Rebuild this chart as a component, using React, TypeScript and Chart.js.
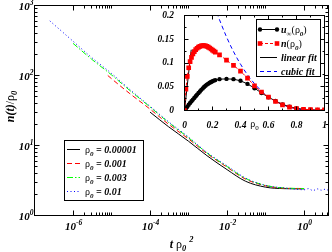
import React, { useEffect, useRef } from 'react';
import { Chart, registerables } from 'chart.js';

Chart.register(...registerables);

// ---------------- main panel data ----------------
const SERIES_LABELS = ['ρ0 = 0.00001', 'ρ0 = 0.001', 'ρ0 = 0.003', 'ρ0 = 0.01'];
const SERIES_COLORS = ['#000000', '#ff0000', '#00ff00', '#0000ff'];

const T_BLACK = [1e-4, 3e-4, 1e-3, 3e-3, 1e-2, 3e-2, 1e-1, 3e-1, 1];
const N_BLACK = [30, 18.6, 11.5, 7.16, 4.52, 3.09, 2.54, 2.42, 2.4];

const T_RED = [8e-6, 1e-5, 3e-5, 1e-4, 3e-4, 1e-3, 3e-3, 1e-2, 3e-2, 1e-1, 3e-1, 1];
const N_RED = [100, 90, 55, 33.1, 20.2, 12.4, 7.67, 4.9, 3.31, 2.66, 2.45, 2.43];

const T_GREEN = [1e-6, 3e-6, 1e-5, 3e-5, 1e-4, 3e-4, 1e-3, 3e-3, 1e-2, 3e-2, 1e-1, 3e-1, 1];
const N_GREEN = [288, 172, 102, 61, 35.5, 21.4, 12.9, 7.85, 5.0, 3.39, 2.69, 2.47, 2.43];

const T_BLUE = [2.5e-7, 1e-6, 3e-6, 1e-5, 3e-5, 1e-4, 3e-4, 1e-3, 3e-3, 1e-2, 3e-2, 1e-1, 3e-1, 0.6, 1, 1.3, 1.7, 2.2, 2.8, 3.5, 4.2];
const N_BLUE = [603, 309, 182, 107, 63, 36.3, 21.9, 13.2, 7.94, 5.13, 3.43, 2.69, 2.48, 2.38, 2.33, 2.42, 2.27, 2.4, 2.3, 2.37, 2.3];

const X_MAJOR = [1e-6, 1e-4, 1e-2, 1];
const X_EXP = ['-6', '-4', '-2', '0'];
const Y_MAJOR = [1, 10, 100, 1000];
const Y_EXP = ['0', '1', '2', '3'];
const X_TITLE = 't ρ0 ²';
const Y_TITLE = 'n(t)/ρ0';

// ---------------- inset data ----------------
const RHO = [0, 0.01, 0.02, 0.03, 0.04, 0.05, 0.06, 0.07, 0.08, 0.09, 0.1, 0.11, 0.12, 0.13, 0.14, 0.15, 0.16, 0.17, 0.18, 0.19, 0.2, 0.21, 0.22,
  0.25, 0.3, 0.35, 0.4, 0.45, 0.5, 0.55, 0.6, 0.65, 0.7, 0.75, 0.8, 0.85, 0.9, 0.95, 1.0];
const U_INF = [0, 0.004, 0.008, 0.012, 0.016, 0.0195, 0.023, 0.0265, 0.03, 0.0335, 0.037, 0.04, 0.0435, 0.0465, 0.0495, 0.052, 0.0545, 0.0565, 0.0585, 0.06, 0.0615, 0.063, 0.064,
  0.066, 0.0665, 0.066, 0.0625, 0.056, 0.047, 0.037, 0.028, 0.02, 0.013, 0.008, 0.0045, 0.0025, 0.0015, 0.001, 0.0008];
const N_RHO = [0, 0.045, 0.072, 0.09, 0.103, 0.112, 0.119, 0.124, 0.128, 0.131, 0.1335, 0.135, 0.136, 0.1365, 0.1365, 0.136, 0.135, 0.1335, 0.1315, 0.1295, 0.127, 0.125, 0.123,
  0.117, 0.106, 0.095, 0.083, 0.068, 0.052, 0.039, 0.028, 0.019, 0.012, 0.007, 0.004, 0.0025, 0.0018, 0.0015, 0.0015];
const LIN_X = [0, 0.048];
const LIN_Y = [0, 0.128];
const CUB_X = [0.23, 0.25, 0.3, 0.35, 0.4, 0.45, 0.5, 0.55, 0.6, 0.65, 0.7, 0.75, 0.8, 0.85, 0.9, 0.95, 1.0];
const CUB_Y = [0.206, 0.191, 0.155, 0.124, 0.0976, 0.0752, 0.0565, 0.0412, 0.0289, 0.0194, 0.0122, 0.0071, 0.0036, 0.0015, 0.0005, 0.0001, 0];
const INSET_LABELS = ['u∞(ρ0)', 'n(ρ0)', 'linear fit', 'cubic fit'];
const INSET_X_TICKS = [0, 0.2, 0.4, 0.6, 0.8, 1];
const INSET_X_LABELS = ['0', '0.2', '0.4', '0.6', '0.8', '1'];
const INSET_X_MINOR = [0.1, 0.3, 0.5, 0.7, 0.9];
const INSET_Y_TICKS = [0, 0.05, 0.1, 0.15, 0.2];
const INSET_Y_LABELS = ['0', '0.05', '0.1', '0.15', '0.2'];
const INSET_Y_MINOR = [0.025, 0.075, 0.125, 0.175];
const INSET_X_TITLE = 'ρ0';

// ---------------- helpers ----------------
const SERIF = '"Liberation Serif", "Times New Roman", serif';
const BI = (s: number) => `italic bold ${s}px ${SERIF}`;
const RG = (s: number) => `${s}px ${SERIF}`;

type Seg = { t: string; f: string; dy?: number };

function richWidth(ctx: CanvasRenderingContext2D, segs: Seg[]) {
  let w = 0;
  for (const s of segs) { ctx.font = s.f; w += ctx.measureText(s.t).width; }
  return w;
}
function drawRich(ctx: CanvasRenderingContext2D, segs: Seg[], x: number, y: number, align: 'left' | 'center' | 'right' = 'left') {
  const w = richWidth(ctx, segs);
  let cx = align === 'left' ? x : align === 'center' ? x - w / 2 : x - w;
  ctx.fillStyle = '#000';
  ctx.textAlign = 'left';
  ctx.textBaseline = 'alphabetic';
  for (const s of segs) {
    ctx.font = s.f;
    ctx.fillText(s.t, cx, y + (s.dy ?? 0));
    cx += ctx.measureText(s.t).width;
  }
}
function richLabel(text: string, size: number, regular: string): Seg[] {
  const segs: Seg[] = [];
  const chars = Array.from(text);
  chars.forEach((c, i) => {
    const prev = chars[i - 1];
    if (c === '∞') segs.push({ t: c, f: RG(size * 0.7), dy: size * 0.25 });
    else if (/[0-9]/.test(c) && prev === 'ρ') segs.push({ t: c, f: BI(size * 0.7), dy: size * 0.25 });
    else if (c === '²') segs.push({ t: '2', f: BI(size * 0.7), dy: -size * 0.5 });
    else if (regular.includes(c)) segs.push({ t: c, f: RG(size) });
    else segs.push({ t: c, f: BI(size) });
  });
  return segs;
}
const powSegs = (exp: string): Seg[] => [{ t: '10', f: BI(11) }, { t: exp, f: BI(7.5), dy: -5.5 }];
const crisp = (v: number) => Math.round(v - 0.5) + 0.5;
const mk = (xs: number[], ys: number[]) => xs.map((x, i) => ({ x, y: ys[i] }));

function line(ctx: CanvasRenderingContext2D, x1: number, y1: number, x2: number, y2: number) {
  ctx.beginPath(); ctx.moveTo(x1, y1); ctx.lineTo(x2, y2); ctx.stroke();
}

// ---------------- main chart decorations ----------------
const mainDeco = {
  id: 'mainDeco',
  afterDraw(chart: any) {
    const { ctx, chartArea: a } = chart;
    const xs = chart.scales.x, ys = chart.scales.y;
    ctx.save();
    ctx.strokeStyle = '#000';
    ctx.lineWidth = 1;
    ctx.setLineDash([]);
    ctx.strokeRect(a.left, a.top, a.right - a.left, a.bottom - a.top);
    // x ticks
    const xMinor: number[] = [];
    X_MAJOR.forEach((m) => { for (let k = 2; k <= 10; k++) if (k * m <= xs.max) xMinor.push(k * m); });
    const xt = (v: number, len: number) => {
      const p = crisp(xs.getPixelForValue(v));
      line(ctx, p, a.bottom, p, a.bottom - len);
      line(ctx, p, a.top, p, a.top + len);
    };
    X_MAJOR.forEach((v) => xt(v, 5));
    xMinor.forEach((v) => xt(v, 3));
    // y ticks
    const yt = (v: number, len: number) => {
      const p = crisp(ys.getPixelForValue(v));
      line(ctx, a.left, p, a.left + len, p);
      line(ctx, a.right, p, a.right - len, p);
    };
    Y_MAJOR.forEach((v) => yt(v, 5));
    Y_MAJOR.slice(0, -1).forEach((m) => { for (let k = 2; k <= 9; k++) yt(k * m, 3); });
    // tick labels
    X_MAJOR.forEach((v, i) => drawRich(ctx, powSegs(X_EXP[i]), xs.getPixelForValue(v) + 0.5, 230, 'center'));
    Y_MAJOR.forEach((v, i) => drawRich(ctx, powSegs(Y_EXP[i]), 33.5, ys.getPixelForValue(v) + 4.5, 'right'));
    // axis titles
    drawRich(ctx, richLabel(X_TITLE, 12, 'ρ'), (a.left + a.right) / 2, 248, 'center');
    ctx.save();
    ctx.translate(14, 106.5);
    ctx.rotate(-Math.PI / 2);
    drawRich(ctx, richLabel(Y_TITLE, 12, '/ρ'), 0, 0, 'center');
    ctx.restore();
    // legend
    ctx.fillStyle = '#fff';
    ctx.fillRect(64.5, 140.5, 79, 60);
    ctx.strokeStyle = '#000';
    ctx.strokeRect(64.5, 140.5, 79, 60);
    chart.data.datasets.forEach((ds: any, i: number) => {
      const cy = 149.5 + i * 14;
      ctx.strokeStyle = ds.borderColor;
      ctx.setLineDash(ds.borderDash || []);
      line(ctx, 67, cy, 80, cy);
      ctx.setLineDash([]);
      drawRich(ctx, richLabel(ds.label, 10, 'ρ'), 85, cy + 3.5);
    });
    ctx.restore();
  },
};

// ---------------- inset decorations ----------------
const insetDeco = {
  id: 'insetDeco',
  beforeDraw(chart: any) {
    const { ctx, chartArea: a } = chart;
    ctx.save();
    ctx.fillStyle = '#fff';
    ctx.fillRect(a.left, a.top, a.right - a.left, a.bottom - a.top);
    ctx.restore();
  },
  afterDraw(chart: any) {
    const { ctx, chartArea: a } = chart;
    const xs = chart.scales.x, ys = chart.scales.y;
    ctx.save();
    ctx.strokeStyle = '#000';
    ctx.lineWidth = 1;
    ctx.setLineDash([]);
    ctx.strokeRect(a.left, a.top, a.right - a.left, a.bottom - a.top);
    const xt = (v: number, len: number) => {
      const p = crisp(xs.getPixelForValue(v));
      line(ctx, p, a.bottom, p, a.bottom - len);
      line(ctx, p, a.top, p, a.top + len);
    };
    const yt = (v: number, len: number) => {
      const p = crisp(ys.getPixelForValue(v));
      line(ctx, a.left, p, a.left + len, p);
      line(ctx, a.right, p, a.right - len, p);
    };
    INSET_X_TICKS.forEach((v) => xt(v, 4));
    INSET_X_MINOR.forEach((v) => xt(v, 2));
    INSET_Y_TICKS.forEach((v) => yt(v, 4));
    INSET_Y_MINOR.forEach((v) => yt(v, 2));
    drawRich(ctx, richLabel(INSET_X_TITLE, 10, 'ρ0').map((s, i) => (i === 1 ? { ...s, f: RG(7) } : s)), (a.left + a.right) / 2, 127, 'center');
    // legend
    ctx.fillStyle = '#fff';
    ctx.fillRect(106.5, 19.5, 64, 57);
    ctx.strokeRect(106.5, 19.5, 64, 57);
    chart.data.datasets.forEach((ds: any, i: number) => {
      const cy = 29.5 + i * 14;
      ctx.strokeStyle = ds.borderColor;
      ctx.setLineDash(ds.borderDash || []);
      line(ctx, 110, cy, 127, cy);
      ctx.setLineDash([]);
      ctx.fillStyle = ds.borderColor;
      if (ds.pointStyle === 'circle' && ds.pointRadius > 0) {
        [110, 127].forEach((x) => { ctx.beginPath(); ctx.arc(x, cy, 2.2, 0, Math.PI * 2); ctx.fill(); });
      } else if (ds.pointStyle === 'rect' && ds.pointRadius > 0) {
        [110, 127].forEach((x) => ctx.fillRect(x - 2.3, cy - 2.3, 4.6, 4.6));
      }
      drawRich(ctx, richLabel(ds.label, 10, 'ρ()'), 131, cy + 3.5);
    });
    ctx.restore();
  },
};

export default function App() {
  const mainRef = useRef<HTMLCanvasElement>(null);
  const insetRef = useRef<HTMLCanvasElement>(null);

  useEffect(() => {
    const mainSeries = [
      mk(T_BLACK, N_BLACK),
      mk(T_RED, N_RED),
      mk(T_GREEN, N_GREEN),
      mk(T_BLUE, N_BLUE),
    ];
    const dashes = [[], [5, 3], [6, 2, 1.5, 2], [1, 2.5]];
    const main = new Chart(mainRef.current!, {
      type: 'line',
      data: {
        datasets: mainSeries.map((d, i) => ({
          label: SERIES_LABELS[i],
          data: d,
          borderColor: SERIES_COLORS[i],
          backgroundColor: SERIES_COLORS[i],
          borderWidth: 1,
          borderDash: dashes[i],
          pointRadius: 0,
          fill: false,
          cubicInterpolationMode: 'monotone',
          order: 4 - i,
        })),
      },
      options: {
        animation: false,
        responsive: false,
        devicePixelRatio: 1,
        layout: { padding: { left: 0, top: 5.5, right: 3.5, bottom: 0 } },
        plugins: { legend: { display: false }, tooltip: { enabled: false } },
        scales: {
          x: {
            type: 'logarithmic', min: 1e-7, max: 4.3,
            grid: { display: false }, border: { display: false },
            ticks: { display: false },
            afterFit: (s: any) => { s.height = 36.5; s.paddingLeft = 0; s.paddingRight = 0; },
          },
          y: {
            type: 'logarithmic', min: 1, max: 1000,
            grid: { display: false }, border: { display: false },
            ticks: { display: false },
            afterFit: (s: any) => { s.width = 34.5; s.paddingTop = 0; s.paddingBottom = 0; },
          },
        },
      } as any,
      plugins: [mainDeco],
    });

    const tickFont = { family: SERIF, size: 9.5, style: 'italic' as const, weight: 'bold' as const };
    const inset = new Chart(insetRef.current!, {
      type: 'line',
      data: {
        datasets: [
          { label: INSET_LABELS[0], data: mk(RHO, U_INF), borderColor: '#000000', backgroundColor: '#000000', borderWidth: 1,
            pointStyle: 'circle', pointRadius: 2.2, pointBorderWidth: 0, order: 2 },
          { label: INSET_LABELS[1], data: mk(RHO, N_RHO), borderColor: '#ff0000', backgroundColor: '#ff0000', borderWidth: 1, borderDash: [3, 2],
            pointStyle: 'rect', pointRadius: 3.3, pointBorderWidth: 0, order: 1 },
          { label: INSET_LABELS[2], data: mk(LIN_X, LIN_Y), borderColor: '#000000', borderWidth: 1, pointRadius: 0, order: 3 },
          { label: INSET_LABELS[3], data: mk(CUB_X, CUB_Y), borderColor: '#0000ff', borderWidth: 1, borderDash: [4, 3], pointRadius: 0,
            cubicInterpolationMode: 'monotone', order: 4 },
        ],
      },
      options: {
        animation: false,
        responsive: false,
        devicePixelRatio: 1,
        layout: { padding: { left: 0, top: 15.5, right: 7.5, bottom: 0 } },
        plugins: { legend: { display: false }, tooltip: { enabled: false } },
        scales: {
          x: {
            type: 'linear', min: 0, max: 1,
            grid: { display: false }, border: { display: false },
            ticks: { font: tickFont, color: '#000', padding: 1, maxRotation: 0, autoSkip: false,
              callback: (_v: any, i: number) => INSET_X_LABELS[i] },
            afterBuildTicks: (s: any) => { s.ticks = INSET_X_TICKS.map((v) => ({ value: v })); },
            afterFit: (s: any) => { s.height = 29.5; s.paddingLeft = 0; s.paddingRight = 0; },
          },
          y: {
            type: 'linear', min: 0, max: 0.2,
            grid: { display: false }, border: { display: false },
            ticks: { font: tickFont, color: '#000', padding: 2.5, autoSkip: false,
              callback: (_v: any, i: number) => INSET_Y_LABELS[i] },
            afterBuildTicks: (s: any) => { s.ticks = INSET_Y_TICKS.map((v) => ({ value: v })); },
            afterFit: (s: any) => { s.width = 34.5; s.paddingTop = 0; s.paddingBottom = 0; },
          },
        },
      } as any,
      plugins: [insetDeco],
    });

    return () => { main.destroy(); inset.destroy(); };
  }, []);

  return (
    <div style={{ position: 'fixed', left: 0, top: 0, width: 332, height: 252, background: '#fff', overflow: 'hidden' }}>
      <canvas ref={mainRef} width={332} height={252} style={{ position: 'absolute', left: 0, top: 0, width: 332, height: 252 }} />
      <canvas ref={insetRef} width={182} height={140} style={{ position: 'absolute', left: 150, top: 0, width: 182, height: 140 }} />
    </div>
  );
}
